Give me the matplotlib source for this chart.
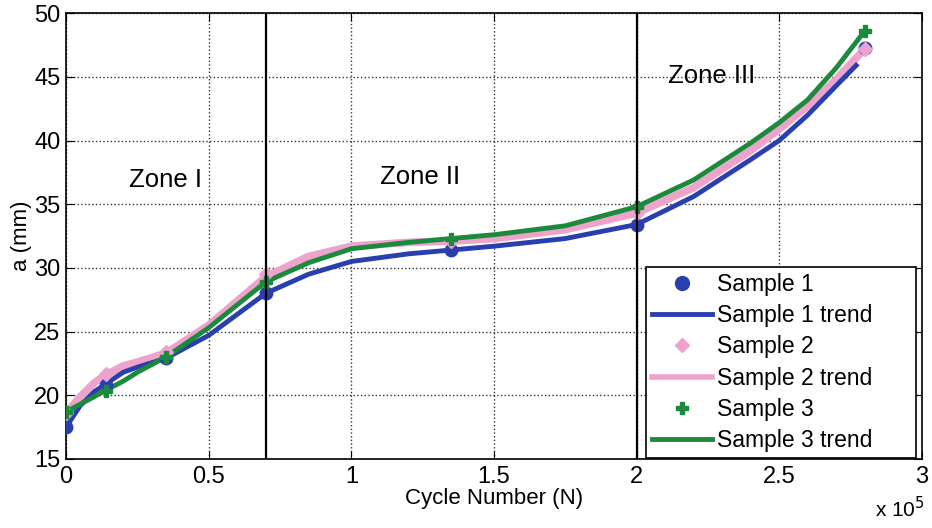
import matplotlib
matplotlib.use("Agg")
import matplotlib.pyplot as plt

plt.rcParams['font.family'] = ['Liberation Sans', 'DejaVu Sans']

# measured points (cycle number in units of 1e5, crack length a in mm)
s1_x = [0.0, 0.14, 0.35, 0.70, 1.35, 2.00, 2.80]
s1_y = [17.5, 20.8, 22.9, 28.0, 31.4, 33.4, 47.3]
s2_x = [0.0, 0.14, 0.35, 0.70, 1.35, 2.00, 2.80]
s2_y = [18.6, 21.7, 23.4, 29.5, 32.1, 34.3, 47.2]
s3_x = [0.0, 0.14, 0.35, 0.70, 1.35, 2.00, 2.80]
s3_y = [18.7, 20.3, 23.0, 28.9, 32.3, 34.8, 48.6]

# trend curves
t1_x = [0.0, 0.05, 0.10, 0.14, 0.20, 0.25, 0.35, 0.50, 0.70, 0.85, 1.0, 1.2, 1.35, 1.5, 1.75, 2.0, 2.2, 2.4, 2.5, 2.6, 2.7, 2.77]
t1_y = [17.5, 19.2, 20.3, 20.9, 21.8, 22.2, 22.9, 24.7, 28.0, 29.5, 30.5, 31.1, 31.4, 31.7, 32.3, 33.4, 35.6, 38.5, 40.0, 42.0, 44.3, 45.9]
t2_x = [0.0, 0.05, 0.10, 0.14, 0.20, 0.25, 0.35, 0.50, 0.70, 0.85, 1.0, 1.2, 1.35, 1.5, 1.75, 2.0, 2.2, 2.4, 2.5, 2.6, 2.7, 2.8]
t2_y = [18.6, 19.9, 21.0, 21.6, 22.3, 22.6, 23.3, 25.5, 29.3, 30.9, 31.7, 32.0, 32.1, 32.3, 33.0, 34.3, 36.3, 39.2, 40.9, 42.7, 44.8, 47.2]
t3_x = [0.0, 0.05, 0.10, 0.14, 0.20, 0.25, 0.35, 0.50, 0.70, 0.85, 1.0, 1.2, 1.35, 1.5, 1.75, 2.0, 2.2, 2.4, 2.5, 2.6, 2.7, 2.8]
t3_y = [18.7, 19.3, 19.9, 20.4, 21.1, 21.8, 23.0, 25.3, 28.9, 30.4, 31.5, 32.0, 32.3, 32.6, 33.3, 34.8, 36.9, 39.8, 41.4, 43.2, 45.7, 48.6]

zone_bounds = [0.7, 2.0]
zone_labels = ["Zone I", "Zone II", "Zone III"]
zone_pos = [(0.22, 36.9), (1.10, 37.1), (2.11, 45.1)]

blue = "#2a3fae"
pink = "#eea3cc"
green = "#1c8a3c"

fig = plt.figure(figsize=(9.32, 5.28), dpi=100)
ax = fig.add_axes([0.071, 0.131, 0.918, 0.844])

ax.plot(t2_x, t2_y, color=pink, lw=5.5, solid_capstyle="round", zorder=2)
ax.plot(t1_x, t1_y, color=blue, lw=3.5, zorder=3)
ax.plot(t3_x, t3_y, color=green, lw=3.5, zorder=4)
ax.plot(s1_x, s1_y, "o", color=blue, ms=9, zorder=5)
ax.plot(s2_x, s2_y, "D", color=pink, ms=7, zorder=5)
ax.plot(s3_x, s3_y, "P", color=green, ms=8, zorder=6)

# empty handles only for the legend
h1, = ax.plot([], [], "o", color=blue, ms=10, label="Sample 1")
h2, = ax.plot([], [], color=blue, lw=3.5, label="Sample 1 trend")
h3, = ax.plot([], [], "D", color=pink, ms=7, label="Sample 2")
h4, = ax.plot([], [], color=pink, lw=4, label="Sample 2 trend")
h5, = ax.plot([], [], "P", color=green, ms=8, label="Sample 3")
h6, = ax.plot([], [], color=green, lw=3.5, label="Sample 3 trend")

for xb in zone_bounds:
    ax.axvline(xb, color="black", lw=1.6, zorder=7)
for lab, (zx, zy) in zip(zone_labels, zone_pos):
    ax.text(zx, zy, lab, fontsize=18.5, ha="left", va="center")

ax.set_xlim(0, 3)
ax.set_ylim(15, 50)
ax.set_xticks([0, 0.5, 1, 1.5, 2, 2.5, 3])
ax.set_xticklabels(["0", "0.5", "1", "1.5", "2", "2.5", "3"])
ax.set_yticks([15, 20, 25, 30, 35, 40, 45, 50])
ax.tick_params(direction="in", labelsize=17, length=6, top=True, right=True)
ax.tick_params(axis="x", pad=5)
ax.tick_params(axis="y", pad=4)
ax.grid(True, linestyle=":", color="black", lw=1.0, alpha=0.8)
for sp in ax.spines.values():
    sp.set_linewidth(1.2)

ax.set_xlabel("Cycle Number (N)", fontsize=16, labelpad=0)
ax.set_ylabel("a (mm)", fontsize=16, labelpad=2)
fig.text(0.992, 0.012, r"x 10$^5$", fontsize=15, ha="right", va="bottom")

leg = ax.legend(handles=[h1, h2, h3, h4, h5, h6], loc="lower left",
                bbox_to_anchor=(0.678, 0.002, 0.315, 0.42), mode="expand",
                fontsize=16.5, frameon=True, fancybox=False, edgecolor="black",
                framealpha=1, borderaxespad=0, handlelength=2.6,
                labelspacing=0.36, borderpad=0.25, handletextpad=0.25)
leg.get_frame().set_linewidth(1.2)
leg.set_zorder(10)

fig.savefig("out.png", dpi=100)
